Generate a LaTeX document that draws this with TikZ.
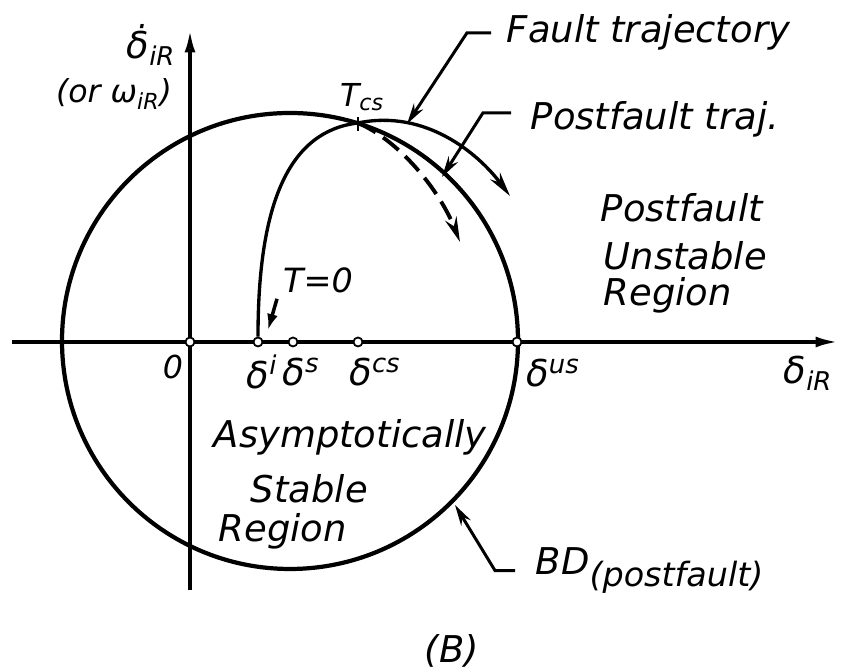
\documentclass[tikz,border=0pt]{standalone}
\usepackage{fontspec}
\setmainfont{DejaVu Sans}
\usetikzlibrary{arrows.meta, positioning}

\begin{document}
\begin{tikzpicture}[
    x=0.02cm, y=0.02cm,
    lbl/.style={font=\itshape\fontsize{21}{24}\selectfont, inner sep=2pt},
    small/.style={font=\itshape\fontsize{18}{21}\selectfont, inner sep=1pt},
    pt/.style={draw, circle, fill=white, line width=1pt, inner sep=0pt, minimum size=0.18cm},
    axis/.style={line width=2pt, -{Latex[open, length=0.45cm, width=0.22cm]}},
    lead/.style={line width=1.7pt, -{Stealth[open, length=0.42cm, width=0.22cm]}},
    traj/.style={line width=1.9pt, -{Stealth[open, length=0.5cm, width=0.24cm]}},
    >=Latex
]
\useasboundingbox (0,0) rectangle (843,671);

% Axes
\coordinate (xl) at (12,329);
\coordinate (xr) at (838,329);
\coordinate (yb) at (190,81);
\coordinate (yt) at (190,641);
\draw[axis] (xl) -- (xr);
\draw[axis] (yb) -- (yt);
\node[lbl] (ylab) at (151,626) {δ̇\textsubscript{iR}};
\node[small] (ylab2) at (114,577) {(or ω\textsubscript{iR})};
\node[lbl] (xlab) at (808,298) {δ\textsubscript{iR}};

% BD (postfault)
\coordinate (c) at (290,330);
\draw[line width=2.4pt] (c) circle[radius=228];

% Points on the axis
\node[pt] (O) at (190,329) {};
\node[pt] (di) at (258,329) {};
\node[pt] (ds) at (293,329) {};
\node[pt] (dcs) at (358,329) {};
\node[pt] (dus) at (517,329) {};
\node[small] (zero) at (173,304) {0};
\node[lbl] (li) at (262,299) {δ\textsuperscript{i}};
\node[lbl] (ls) at (301,299) {δ\textsuperscript{s}};
\node[lbl] (lcs) at (375,299) {δ\textsuperscript{cs}};
\node[lbl] (lus) at (553,298) {δ\textsuperscript{us}};

% Trajectories
\coordinate (Tcs) at (358,548);
\coordinate (fend) at (510,475);
\coordinate (pend) at (460,429);
\draw[traj] (di.north) .. controls (258,470) and (290,540) .. (Tcs)
    .. controls (425,562) and (478,518) .. (fend);
\draw[traj, line width=2.2pt, dash pattern=on 0.4cm off 0.18cm] (Tcs) .. controls (400,530) and (440,480) .. (pend);
\draw[line width=1.2pt] (Tcs) ++(0,6) -- ++(0,-14);
\node[small] (tcs) at (362,574) {T\textsubscript{cs}};

% T=0
\node[font=\itshape\fontsize{19}{22}\selectfont] (t0) at (318,391) {T=0};
\coordinate (t0tip) at (268,341);
\draw[line width=2pt, -{Latex[length=0.32cm, width=0.22cm]}] (t0.south west) -- (t0tip);

% Labels with leaders
\node[lbl, anchor=base west] (ftlbl) at (503,628) {Fault trajectory};
\coordinate (fttip) at (407,547);
\draw[lead] (ftlbl.west) ++(-12,0) -- ++(-24,0) -- (fttip);

\node[lbl, anchor=base west] (ptlbl) at (527,541) {Postfault traj.};
\coordinate (pttip) at (442,494);
\draw[lead] (ptlbl.west) ++(-16,7) -- ++(-28,0) -- (pttip);

\node[lbl, anchor=base west] (bdlbl) at (532,96) {BD\raisebox{-0.3em}{\fontsize{19}{22}\selectfont(postfault)}};
\coordinate (bdtip) at (455,166);
\draw[lead] (bdlbl.west) ++(-17,0) -- ++(-20,0) -- (bdtip);

% Regions
\node[lbl, anchor=base west] (pu1) at (597,449) {Postfault};
\node[lbl, anchor=base west] (pu2) at (600,401) {Unstable};
\node[lbl, anchor=base west] (pu3) at (600,365) {Region};
\node[lbl, anchor=base west] (as1) at (210,223) {Asymptotically};
\node[lbl, anchor=base west] (as2) at (247,168) {Stable};
\node[lbl, anchor=base west] (as3) at (215,129) {Region};

\node[lbl] (cap) at (452,20) {(B)};
\end{tikzpicture}
\end{document}
